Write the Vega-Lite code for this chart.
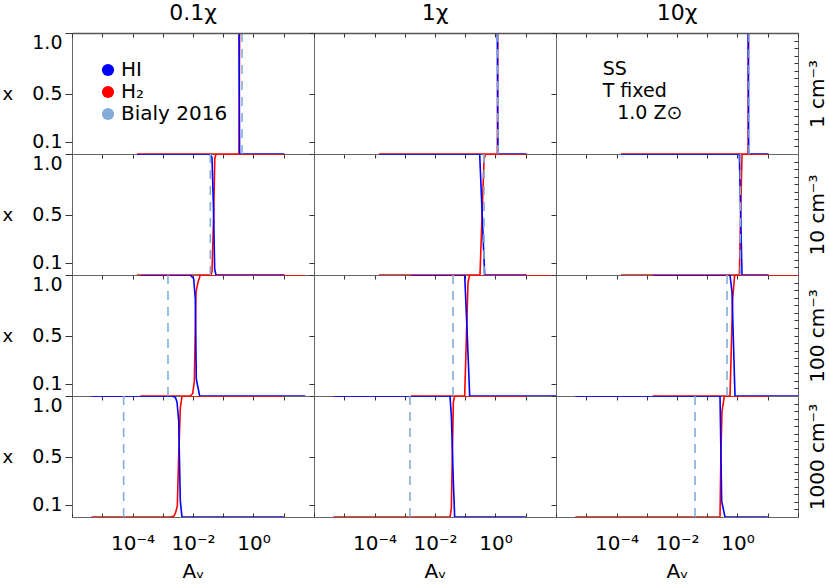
{
"$schema":"https://vega.github.io/schema/vega-lite/v6.json",
"autosize":{"type":"none"},
"padding":{"left":72,"top":33,"right":758,"bottom":551},
"background":"white",
"config":{"font":"DejaVu Sans","view":{"stroke":"#666","strokeWidth":1},
"axis":{"grid":false,"domain":false,"tickColor":"#333","labelColor":"#000","titleColor":"#000","titleFontWeight":"normal","labelFontSize":19,"titleFontSize":20}},
"datasets":{"d":[
{"n":1,"c":0.1,"s":"H₂","a":0.000141,"f":0},{"n":1,"c":0.1,"s":"H₂","a":0.331,"f":0},{"n":1,"c":0.1,"s":"H₂","a":0.347,"f":1},{"n":1,"c":0.1,"s":"H₂","a":10.7,"f":1},
{"n":1,"c":0.1,"s":"HI","a":0.000141,"f":1},{"n":1,"c":0.1,"s":"HI","a":0.331,"f":1},{"n":1,"c":0.1,"s":"HI","a":0.347,"f":0},{"n":1,"c":0.1,"s":"HI","a":10.7,"f":0},
{"n":1,"c":0.1,"s":"Bialy 2016","a":0.417,"f":0},{"n":1,"c":0.1,"s":"Bialy 2016","a":0.417,"f":1},
{"n":1,"c":1,"s":"H₂","a":0.000141,"f":0},{"n":1,"c":1,"s":"H₂","a":1.148,"f":0},{"n":1,"c":1,"s":"H₂","a":1.202,"f":1},{"n":1,"c":1,"s":"H₂","a":10.7,"f":1},
{"n":1,"c":1,"s":"HI","a":0.000141,"f":1},{"n":1,"c":1,"s":"HI","a":1.148,"f":1},{"n":1,"c":1,"s":"HI","a":1.202,"f":0},{"n":1,"c":1,"s":"HI","a":10.7,"f":0},
{"n":1,"c":1,"s":"Bialy 2016","a":1.2,"f":0},{"n":1,"c":1,"s":"Bialy 2016","a":1.2,"f":1},
{"n":1,"c":10,"s":"H₂","a":0.000141,"f":0},{"n":1,"c":10,"s":"H₂","a":2.24,"f":0},{"n":1,"c":10,"s":"H₂","a":2.34,"f":1},{"n":1,"c":10,"s":"H₂","a":10.7,"f":1},
{"n":1,"c":10,"s":"HI","a":0.000141,"f":1},{"n":1,"c":10,"s":"HI","a":2.24,"f":1},{"n":1,"c":10,"s":"HI","a":2.34,"f":0},{"n":1,"c":10,"s":"HI","a":10.7,"f":0},
{"n":1,"c":10,"s":"Bialy 2016","a":2.40,"f":0},{"n":1,"c":10,"s":"Bialy 2016","a":2.40,"f":1},
{"n":10,"c":0.1,"s":"H₂","a":0.000141,"f":0},{"n":10,"c":0.1,"s":"H₂","a":0.0394,"f":0},{"n":10,"c":0.1,"s":"H₂","a":0.0425,"f":0.03},{"n":10,"c":0.1,"s":"H₂","a":0.0482,"f":0.5},{"n":10,"c":0.1,"s":"H₂","a":0.0525,"f":0.96},{"n":10,"c":0.1,"s":"H₂","a":0.0575,"f":1},{"n":10,"c":0.1,"s":"H₂","a":10.7,"f":1},
{"n":10,"c":0.1,"s":"HI","a":0.000141,"f":1},{"n":10,"c":0.1,"s":"HI","a":0.0356,"f":1},{"n":10,"c":0.1,"s":"HI","a":0.0425,"f":0.97},{"n":10,"c":0.1,"s":"HI","a":0.0482,"f":0.5},{"n":10,"c":0.1,"s":"HI","a":0.052,"f":0.05},{"n":10,"c":0.1,"s":"HI","a":0.0575,"f":0},{"n":10,"c":0.1,"s":"HI","a":10.7,"f":0},
{"n":10,"c":0.1,"s":"Bialy 2016","a":0.0374,"f":0},{"n":10,"c":0.1,"s":"Bialy 2016","a":0.0374,"f":1},
{"n":10,"c":1,"s":"H₂","a":0.000141,"f":0},{"n":10,"c":1,"s":"H₂","a":0.307,"f":0},{"n":10,"c":1,"s":"H₂","a":0.417,"f":0.95},{"n":10,"c":1,"s":"H₂","a":0.461,"f":1},{"n":10,"c":1,"s":"H₂","a":10.7,"f":1},
{"n":10,"c":1,"s":"HI","a":0.000141,"f":1},{"n":10,"c":1,"s":"HI","a":0.300,"f":1},{"n":10,"c":1,"s":"HI","a":0.439,"f":0},{"n":10,"c":1,"s":"HI","a":10.7,"f":0},
{"n":10,"c":1,"s":"Bialy 2016","a":0.417,"f":0},{"n":10,"c":1,"s":"Bialy 2016","a":0.417,"f":1},
{"n":10,"c":10,"s":"H₂","a":0.000141,"f":0},{"n":10,"c":10,"s":"H₂","a":1.151,"f":0},{"n":10,"c":10,"s":"H₂","a":1.409,"f":1},{"n":10,"c":10,"s":"H₂","a":10.7,"f":1},
{"n":10,"c":10,"s":"HI","a":0.000141,"f":1},{"n":10,"c":10,"s":"HI","a":1.151,"f":1},{"n":10,"c":10,"s":"HI","a":1.409,"f":0},{"n":10,"c":10,"s":"HI","a":10.7,"f":0},
{"n":10,"c":10,"s":"Bialy 2016","a":1.242,"f":0},{"n":10,"c":10,"s":"Bialy 2016","a":1.242,"f":1},
{"n":100,"c":0.1,"s":"H₂","a":0.000182,"f":0},{"n":100,"c":0.1,"s":"H₂","a":0.00817,"f":0},{"n":100,"c":0.1,"s":"H₂","a":0.00975,"f":0.02},{"n":100,"c":0.1,"s":"H₂","a":0.01107,"f":0.12},{"n":100,"c":0.1,"s":"H₂","a":0.01256,"f":0.86},{"n":100,"c":0.1,"s":"H₂","a":0.01462,"f":0.94},{"n":100,"c":0.1,"s":"H₂","a":0.01746,"f":1},{"n":100,"c":0.1,"s":"H₂","a":51.3,"f":1},
{"n":100,"c":0.1,"s":"HI","a":0.000182,"f":1},{"n":100,"c":0.1,"s":"HI","a":0.00817,"f":1},{"n":100,"c":0.1,"s":"HI","a":0.01052,"f":0.97},{"n":100,"c":0.1,"s":"HI","a":0.01194,"f":0.8},{"n":100,"c":0.1,"s":"HI","a":0.01288,"f":0.14},{"n":100,"c":0.1,"s":"HI","a":0.0166,"f":0},{"n":100,"c":0.1,"s":"HI","a":51.3,"f":0},
{"n":100,"c":0.1,"s":"Bialy 2016","a":0.00149,"f":0},{"n":100,"c":0.1,"s":"Bialy 2016","a":0.00149,"f":1},
{"n":100,"c":1,"s":"H₂","a":0.00158,"f":0},{"n":100,"c":1,"s":"H₂","a":0.0957,"f":0},{"n":100,"c":1,"s":"H₂","a":0.1233,"f":0.94},{"n":100,"c":1,"s":"H₂","a":0.140,"f":1},{"n":100,"c":1,"s":"H₂","a":100,"f":1},
{"n":100,"c":1,"s":"HI","a":0.00158,"f":1},{"n":100,"c":1,"s":"HI","a":0.0957,"f":1},{"n":100,"c":1,"s":"HI","a":0.117,"f":0.5},{"n":100,"c":1,"s":"HI","a":0.140,"f":0},{"n":100,"c":1,"s":"HI","a":100,"f":0},
{"n":100,"c":1,"s":"Bialy 2016","a":0.0394,"f":0},{"n":100,"c":1,"s":"Bialy 2016","a":0.0394,"f":1},
{"n":100,"c":10,"s":"H₂","a":0.00158,"f":0},{"n":100,"c":10,"s":"H₂","a":0.565,"f":0},{"n":100,"c":10,"s":"H₂","a":0.692,"f":0.8},{"n":100,"c":10,"s":"H₂","a":0.805,"f":1},{"n":100,"c":10,"s":"H₂","a":100,"f":1},
{"n":100,"c":10,"s":"HI","a":0.00158,"f":1},{"n":100,"c":10,"s":"HI","a":0.565,"f":1},{"n":100,"c":10,"s":"HI","a":0.658,"f":0.86},{"n":100,"c":10,"s":"HI","a":0.826,"f":0},{"n":100,"c":10,"s":"HI","a":100,"f":0},
{"n":100,"c":10,"s":"Bialy 2016","a":0.450,"f":0},{"n":100,"c":10,"s":"Bialy 2016","a":0.450,"f":1},
{"n":1000,"c":0.1,"s":"H₂","a":0.00000437,"f":0},{"n":1000,"c":0.1,"s":"H₂","a":0.00178,"f":0},{"n":1000,"c":0.1,"s":"H₂","a":0.0023,"f":0.005},{"n":1000,"c":0.1,"s":"H₂","a":0.00261,"f":0.03},{"n":1000,"c":0.1,"s":"H₂","a":0.00303,"f":0.09},{"n":1000,"c":0.1,"s":"H₂","a":0.00336,"f":0.5},{"n":1000,"c":0.1,"s":"H₂","a":0.00381,"f":0.9},{"n":1000,"c":0.1,"s":"H₂","a":0.00433,"f":1},{"n":1000,"c":0.1,"s":"H₂","a":10,"f":1},
{"n":1000,"c":0.1,"s":"HI","a":0.00000437,"f":1},{"n":1000,"c":0.1,"s":"HI","a":0.00202,"f":1},{"n":1000,"c":0.1,"s":"HI","a":0.00261,"f":0.99},{"n":1000,"c":0.1,"s":"HI","a":0.00296,"f":0.95},{"n":1000,"c":0.1,"s":"HI","a":0.00336,"f":0.8},{"n":1000,"c":0.1,"s":"HI","a":0.00381,"f":0.13},{"n":1000,"c":0.1,"s":"HI","a":0.00433,"f":0},{"n":1000,"c":0.1,"s":"HI","a":10,"f":0},
{"n":1000,"c":0.1,"s":"Bialy 2016","a":0.000051,"f":0},{"n":1000,"c":0.1,"s":"Bialy 2016","a":0.000051,"f":1},
{"n":1000,"c":1,"s":"H₂","a":0.00000437,"f":0},{"n":1000,"c":1,"s":"H₂","a":0.0313,"f":0},{"n":1000,"c":1,"s":"H₂","a":0.0347,"f":0.07},{"n":1000,"c":1,"s":"H₂","a":0.0404,"f":0.95},{"n":1000,"c":1,"s":"H₂","a":0.0447,"f":1},{"n":1000,"c":1,"s":"H₂","a":10,"f":1},
{"n":1000,"c":1,"s":"HI","a":0.00000437,"f":1},{"n":1000,"c":1,"s":"HI","a":0.0313,"f":1},{"n":1000,"c":1,"s":"HI","a":0.0347,"f":0.84},{"n":1000,"c":1,"s":"HI","a":0.0404,"f":0.29},{"n":1000,"c":1,"s":"HI","a":0.0447,"f":0},{"n":1000,"c":1,"s":"HI","a":10,"f":0},
{"n":1000,"c":1,"s":"Bialy 2016","a":0.00149,"f":0},{"n":1000,"c":1,"s":"Bialy 2016","a":0.00149,"f":1},
{"n":1000,"c":10,"s":"H₂","a":0.00000437,"f":0},{"n":1000,"c":10,"s":"H₂","a":0.264,"f":0},{"n":1000,"c":10,"s":"H₂","a":0.285,"f":0.57},{"n":1000,"c":10,"s":"H₂","a":0.307,"f":0.87},{"n":1000,"c":10,"s":"H₂","a":0.367,"f":1},{"n":1000,"c":10,"s":"H₂","a":10,"f":1},
{"n":1000,"c":10,"s":"HI","a":0.00000437,"f":1},{"n":1000,"c":10,"s":"HI","a":0.264,"f":1},{"n":1000,"c":10,"s":"HI","a":0.300,"f":0.13},{"n":1000,"c":10,"s":"HI","a":0.386,"f":0},{"n":1000,"c":10,"s":"HI","a":10,"f":0},
{"n":1000,"c":10,"s":"Bialy 2016","a":0.0394,"f":0},{"n":1000,"c":10,"s":"Bialy 2016","a":0.0394,"f":1}
]},
"data":{"name":"d"},
"columns":3,
"spacing":0,
"bounds":"flush",
"concat":[
{"width":242,"height":121,
 "title":{"text":"0.1χ","fontSize":22,"fontWeight":"normal","offset":-9,"baseline":"alphabetic"},
 "layer":[
  {"transform":[{"filter":"datum.n==1 && datum.c==0.1"}],"mark":{"type":"line","strokeWidth":1.6,"clip":true},
   "encoding":{
    "x":{"field":"a","type":"quantitative","scale":{"type":"log","domain":[0.000001,100]},"axis":{"values":[0.000001,0.00001,0.0001,0.001,0.01,0.1,1,10,100],"labels":false,"title":null,"tickSize":4}},
    "y":{"field":"f","type":"quantitative","scale":{"domain":[0,1]},"axis":{"values":[0.1,0.5,1],"format":".1f","tickSize":7,"labelPadding":3,"labelFlush":true,"title":"x","titleAngle":0,"titleX":-70,"titleY":61,"titleAlign":"left","titleBaseline":"middle","titleFontSize":18}},
    "color":{"field":"s","type":"nominal","title":null,"scale":{"domain":["HI","H₂","Bialy 2016"],"range":["#0000ff","#ff0000","#84acd9"]},
      "legend":{"orient":"none","legendX":26,"legendY":27,"symbolType":"circle","symbolSize":150,"labelFontSize":20,"labelOffset":3,"rowPadding":2,"padding":0,"symbolStrokeWidth":0,
        "encode":{"symbols":{"update":{"fill":{"scale":"color","field":"value"},"fillOpacity":{"value":1},"shape":{"value":"circle"}}}}}},
    "strokeDash":{"field":"s","type":"nominal","legend":null,"scale":{"domain":["HI","H₂","Bialy 2016"],"range":[[1,0],[1,0],[9,7]]}}}},
  {"transform":[{"filter":"datum.n==1 && datum.c==0.1"}],"mark":{"type":"point","opacity":0},
   "encoding":{"x":{"datum":1,"type":"quantitative","scale":{"type":"log","domain":[0.000001,100]},"axis":{"orient":"top","values":[0.000001,0.00001,0.0001,0.001,0.01,0.1,1,10,100],"labels":false,"title":null,"tickSize":-4,"domain":true,"domainColor":"#555","domainWidth":1.5,"zindex":1}},
    "y":{"datum":0.5,"type":"quantitative","scale":{"domain":[0,1]},"axis":null}}}
 ],
 "resolve":{"axis":{"x":"independent","y":"independent"}}},
{"width":242,"height":121,
 "title":{"text":"1χ","fontSize":22,"fontWeight":"normal","offset":-9,"baseline":"alphabetic"},
 "layer":[
  {"transform":[{"filter":"datum.n==1 && datum.c==1"}],"mark":{"type":"line","strokeWidth":1.6,"clip":true},
   "encoding":{
    "x":{"field":"a","type":"quantitative","scale":{"type":"log","domain":[0.000001,100]},"axis":{"values":[0.000001,0.00001,0.0001,0.001,0.01,0.1,1,10,100],"labels":false,"title":null,"tickSize":4}},
    "y":{"field":"f","type":"quantitative","scale":{"domain":[0,1]},"axis":{"values":[0.1,0.5,1],"labels":false,"tickSize":5,"title":null}},
    "color":{"field":"s","type":"nominal","title":null,"scale":{"domain":["HI","H₂","Bialy 2016"],"range":["#0000ff","#ff0000","#84acd9"]}},
    "strokeDash":{"field":"s","type":"nominal","legend":null,"scale":{"domain":["HI","H₂","Bialy 2016"],"range":[[1,0],[1,0],[9,7]]}}}},
  {"transform":[{"filter":"datum.n==1 && datum.c==1"}],"mark":{"type":"point","opacity":0},
   "encoding":{"x":{"datum":1,"type":"quantitative","scale":{"type":"log","domain":[0.000001,100]},"axis":{"orient":"top","values":[0.000001,0.00001,0.0001,0.001,0.01,0.1,1,10,100],"labels":false,"title":null,"tickSize":-4,"domain":true,"domainColor":"#555","domainWidth":1.5,"zindex":1}},
    "y":{"datum":0.5,"type":"quantitative","scale":{"domain":[0,1]},"axis":null}}}
 ],
 "resolve":{"axis":{"x":"independent","y":"independent"}}},
{"width":242,"height":121,
 "title":{"text":"10χ","fontSize":22,"fontWeight":"normal","offset":-9,"baseline":"alphabetic"},
 "layer":[
  {"transform":[{"filter":"datum.n==1 && datum.c==10"}],"mark":{"type":"line","strokeWidth":1.6,"clip":true},
   "encoding":{
    "x":{"field":"a","type":"quantitative","scale":{"type":"log","domain":[0.000001,100]},"axis":{"values":[0.000001,0.00001,0.0001,0.001,0.01,0.1,1,10,100],"labels":false,"title":null,"tickSize":4}},
    "y":{"field":"f","type":"quantitative","scale":{"domain":[0,1]},"axis":{"values":[0.1,0.5,1],"labels":false,"tickSize":5,"title":null}},
    "color":{"field":"s","type":"nominal","title":null,"scale":{"domain":["HI","H₂","Bialy 2016"],"range":["#0000ff","#ff0000","#84acd9"]}},
    "strokeDash":{"field":"s","type":"nominal","legend":null,"scale":{"domain":["HI","H₂","Bialy 2016"],"range":[[1,0],[1,0],[9,7]]}}}},
  {"transform":[{"filter":"datum.n==1 && datum.c==10"}],"mark":{"type":"point","opacity":0},
   "encoding":{"x":{"datum":1,"type":"quantitative","scale":{"type":"log","domain":[0.000001,100]},"axis":{"orient":"top","values":[0.000001,0.00001,0.0001,0.001,0.01,0.1,1,10,100],"labels":false,"title":null,"tickSize":-4,"domain":true,"domainColor":"#555","domainWidth":1.5,"zindex":1}},
    "y":{"datum":0.5,"type":"quantitative","scale":{"domain":[0,1]},"axis":{"orient":"right","values":[0.0625,0.125,0.1875,0.25,0.3125,0.375,0.4375,0.5,0.5625,0.625,0.6875,0.75,0.8125,0.875,0.9375],"labels":false,"tickSize":-4,"title":"1 cm⁻³","titleAngle":270,"titleX":25,"titleY":60.5,"titleAlign":"center","titleBaseline":"alphabetic","titleFontSize":20}}}},
  {"data":{"values":[{"t":"SS\nT fixed"}]},"mark":{"type":"text","align":"left","baseline":"alphabetic","fontSize":19,"lineHeight":22,"lineBreak":"\n"},
   "encoding":{"x":{"datum":0.000035,"type":"quantitative","scale":{"type":"log","domain":[0.000001,100]},"axis":null},"y":{"datum":0.654,"type":"quantitative","scale":{"domain":[0,1]},"axis":null},"text":{"field":"t"}}},
  {"data":{"values":[{"t":"1.0 Z⊙"}]},"mark":{"type":"text","align":"left","baseline":"alphabetic","fontSize":19},
   "encoding":{"x":{"datum":0.000105,"type":"quantitative","scale":{"type":"log","domain":[0.000001,100]},"axis":null},"y":{"datum":0.29,"type":"quantitative","scale":{"domain":[0,1]},"axis":null},"text":{"field":"t"}}}
 ],
 "resolve":{"axis":{"x":"independent","y":"independent"}}},
{"width":242,"height":121,
 "layer":[
  {"transform":[{"filter":"datum.n==10 && datum.c==0.1"}],"mark":{"type":"line","strokeWidth":1.6,"clip":true},
   "encoding":{
    "x":{"field":"a","type":"quantitative","scale":{"type":"log","domain":[0.000001,100]},"axis":{"values":[0.000001,0.00001,0.0001,0.001,0.01,0.1,1,10,100],"labels":false,"title":null,"tickSize":4}},
    "y":{"field":"f","type":"quantitative","scale":{"domain":[0,1]},"axis":{"values":[0.1,0.5,1],"format":".1f","tickSize":7,"labelPadding":3,"labelFlush":true,"title":"x","titleAngle":0,"titleX":-70,"titleY":61,"titleAlign":"left","titleBaseline":"middle","titleFontSize":18}},
    "color":{"field":"s","type":"nominal","title":null,"scale":{"domain":["HI","H₂","Bialy 2016"],"range":["#0000ff","#ff0000","#84acd9"]}},
    "strokeDash":{"field":"s","type":"nominal","legend":null,"scale":{"domain":["HI","H₂","Bialy 2016"],"range":[[1,0],[1,0],[9,7]]}}}}
 ]},
{"width":242,"height":121,
 "layer":[
  {"transform":[{"filter":"datum.n==10 && datum.c==1"}],"mark":{"type":"line","strokeWidth":1.6,"clip":true},
   "encoding":{
    "x":{"field":"a","type":"quantitative","scale":{"type":"log","domain":[0.000001,100]},"axis":{"values":[0.000001,0.00001,0.0001,0.001,0.01,0.1,1,10,100],"labels":false,"title":null,"tickSize":4}},
    "y":{"field":"f","type":"quantitative","scale":{"domain":[0,1]},"axis":{"values":[0.1,0.5,1],"labels":false,"tickSize":5,"title":null}},
    "color":{"field":"s","type":"nominal","title":null,"scale":{"domain":["HI","H₂","Bialy 2016"],"range":["#0000ff","#ff0000","#84acd9"]}},
    "strokeDash":{"field":"s","type":"nominal","legend":null,"scale":{"domain":["HI","H₂","Bialy 2016"],"range":[[1,0],[1,0],[9,7]]}}}}
 ]},
{"width":242,"height":121,
 "layer":[
  {"transform":[{"filter":"datum.n==10 && datum.c==10"}],"mark":{"type":"line","strokeWidth":1.6,"clip":true},
   "encoding":{
    "x":{"field":"a","type":"quantitative","scale":{"type":"log","domain":[0.000001,100]},"axis":{"values":[0.000001,0.00001,0.0001,0.001,0.01,0.1,1,10,100],"labels":false,"title":null,"tickSize":4}},
    "y":{"field":"f","type":"quantitative","scale":{"domain":[0,1]},"axis":{"values":[0.1,0.5,1],"labels":false,"tickSize":5,"title":null}},
    "color":{"field":"s","type":"nominal","title":null,"scale":{"domain":["HI","H₂","Bialy 2016"],"range":["#0000ff","#ff0000","#84acd9"]}},
    "strokeDash":{"field":"s","type":"nominal","legend":null,"scale":{"domain":["HI","H₂","Bialy 2016"],"range":[[1,0],[1,0],[9,7]]}}}},
  {"transform":[{"filter":"datum.n==10 && datum.c==10"}],"mark":{"type":"point","opacity":0},
   "encoding":{"x":{"datum":1,"type":"quantitative","scale":{"type":"log","domain":[0.000001,100]},"axis":null},
    "y":{"datum":0.5,"type":"quantitative","scale":{"domain":[0,1]},"axis":{"orient":"right","values":[0.0625,0.125,0.1875,0.25,0.3125,0.375,0.4375,0.5,0.5625,0.625,0.6875,0.75,0.8125,0.875,0.9375],"labels":false,"tickSize":-4,"title":"10 cm⁻³","titleAngle":270,"titleX":25,"titleY":60.5,"titleAlign":"center","titleBaseline":"alphabetic","titleFontSize":20}}}}
 ],
 "resolve":{"axis":{"x":"independent","y":"independent"}}},
{"width":242,"height":121,
 "layer":[
  {"transform":[{"filter":"datum.n==100 && datum.c==0.1"}],"mark":{"type":"line","strokeWidth":1.6,"clip":true},
   "encoding":{
    "x":{"field":"a","type":"quantitative","scale":{"type":"log","domain":[0.000001,100]},"axis":{"values":[0.000001,0.00001,0.0001,0.001,0.01,0.1,1,10,100],"labels":false,"title":null,"tickSize":4}},
    "y":{"field":"f","type":"quantitative","scale":{"domain":[0,1]},"axis":{"values":[0.1,0.5,1],"format":".1f","tickSize":7,"labelPadding":3,"labelFlush":true,"title":"x","titleAngle":0,"titleX":-70,"titleY":61,"titleAlign":"left","titleBaseline":"middle","titleFontSize":18}},
    "color":{"field":"s","type":"nominal","title":null,"scale":{"domain":["HI","H₂","Bialy 2016"],"range":["#0000ff","#ff0000","#84acd9"]}},
    "strokeDash":{"field":"s","type":"nominal","legend":null,"scale":{"domain":["HI","H₂","Bialy 2016"],"range":[[1,0],[1,0],[9,7]]}}}}
 ]},
{"width":242,"height":121,
 "layer":[
  {"transform":[{"filter":"datum.n==100 && datum.c==1"}],"mark":{"type":"line","strokeWidth":1.6,"clip":true},
   "encoding":{
    "x":{"field":"a","type":"quantitative","scale":{"type":"log","domain":[0.000001,100]},"axis":{"values":[0.000001,0.00001,0.0001,0.001,0.01,0.1,1,10,100],"labels":false,"title":null,"tickSize":4}},
    "y":{"field":"f","type":"quantitative","scale":{"domain":[0,1]},"axis":{"values":[0.1,0.5,1],"labels":false,"tickSize":5,"title":null}},
    "color":{"field":"s","type":"nominal","title":null,"scale":{"domain":["HI","H₂","Bialy 2016"],"range":["#0000ff","#ff0000","#84acd9"]}},
    "strokeDash":{"field":"s","type":"nominal","legend":null,"scale":{"domain":["HI","H₂","Bialy 2016"],"range":[[1,0],[1,0],[9,7]]}}}}
 ]},
{"width":242,"height":121,
 "layer":[
  {"transform":[{"filter":"datum.n==100 && datum.c==10"}],"mark":{"type":"line","strokeWidth":1.6,"clip":true},
   "encoding":{
    "x":{"field":"a","type":"quantitative","scale":{"type":"log","domain":[0.000001,100]},"axis":{"values":[0.000001,0.00001,0.0001,0.001,0.01,0.1,1,10,100],"labels":false,"title":null,"tickSize":4}},
    "y":{"field":"f","type":"quantitative","scale":{"domain":[0,1]},"axis":{"values":[0.1,0.5,1],"labels":false,"tickSize":5,"title":null}},
    "color":{"field":"s","type":"nominal","title":null,"scale":{"domain":["HI","H₂","Bialy 2016"],"range":["#0000ff","#ff0000","#84acd9"]}},
    "strokeDash":{"field":"s","type":"nominal","legend":null,"scale":{"domain":["HI","H₂","Bialy 2016"],"range":[[1,0],[1,0],[9,7]]}}}},
  {"transform":[{"filter":"datum.n==100 && datum.c==10"}],"mark":{"type":"point","opacity":0},
   "encoding":{"x":{"datum":1,"type":"quantitative","scale":{"type":"log","domain":[0.000001,100]},"axis":null},
    "y":{"datum":0.5,"type":"quantitative","scale":{"domain":[0,1]},"axis":{"orient":"right","values":[0.0625,0.125,0.1875,0.25,0.3125,0.375,0.4375,0.5,0.5625,0.625,0.6875,0.75,0.8125,0.875,0.9375],"labels":false,"tickSize":-4,"title":"100 cm⁻³","titleAngle":270,"titleX":25,"titleY":60.5,"titleAlign":"center","titleBaseline":"alphabetic","titleFontSize":20}}}}
 ],
 "resolve":{"axis":{"x":"independent","y":"independent"}}},
{"width":242,"height":121,
 "layer":[
  {"transform":[{"filter":"datum.n==1000 && datum.c==0.1"}],"mark":{"type":"line","strokeWidth":1.6,"clip":true},
   "encoding":{
    "x":{"field":"a","type":"quantitative","scale":{"type":"log","domain":[0.000001,100]},"axis":{"values":[0.000001,0.00001,0.0001,0.001,0.01,0.1,1,10,100],"labelExpr":"datum.value == 0.0001 ? '10⁻⁴' : datum.value == 0.01 ? '10⁻²' : datum.value == 1 ? '10⁰' : ''","tickSize":-4,"labelPadding":20,"labelFontSize":20,"labelFlush":false,"labelOverlap":false,"title":"Aᵥ","titlePadding":8}},
    "y":{"field":"f","type":"quantitative","scale":{"domain":[0,1]},"axis":{"values":[0.1,0.5,1],"format":".1f","tickSize":7,"labelPadding":3,"labelFlush":true,"title":"x","titleAngle":0,"titleX":-70,"titleY":61,"titleAlign":"left","titleBaseline":"middle","titleFontSize":18}},
    "color":{"field":"s","type":"nominal","title":null,"scale":{"domain":["HI","H₂","Bialy 2016"],"range":["#0000ff","#ff0000","#84acd9"]}},
    "strokeDash":{"field":"s","type":"nominal","legend":null,"scale":{"domain":["HI","H₂","Bialy 2016"],"range":[[1,0],[1,0],[9,7]]}}}}
 ]},
{"width":242,"height":121,
 "layer":[
  {"transform":[{"filter":"datum.n==1000 && datum.c==1"}],"mark":{"type":"line","strokeWidth":1.6,"clip":true},
   "encoding":{
    "x":{"field":"a","type":"quantitative","scale":{"type":"log","domain":[0.000001,100]},"axis":{"values":[0.000001,0.00001,0.0001,0.001,0.01,0.1,1,10,100],"labelExpr":"datum.value == 0.0001 ? '10⁻⁴' : datum.value == 0.01 ? '10⁻²' : datum.value == 1 ? '10⁰' : ''","tickSize":-4,"labelPadding":20,"labelFontSize":20,"labelFlush":false,"labelOverlap":false,"title":"Aᵥ","titlePadding":8}},
    "y":{"field":"f","type":"quantitative","scale":{"domain":[0,1]},"axis":{"values":[0.1,0.5,1],"labels":false,"tickSize":5,"title":null}},
    "color":{"field":"s","type":"nominal","title":null,"scale":{"domain":["HI","H₂","Bialy 2016"],"range":["#0000ff","#ff0000","#84acd9"]}},
    "strokeDash":{"field":"s","type":"nominal","legend":null,"scale":{"domain":["HI","H₂","Bialy 2016"],"range":[[1,0],[1,0],[9,7]]}}}}
 ]},
{"width":242,"height":121,
 "layer":[
  {"transform":[{"filter":"datum.n==1000 && datum.c==10"}],"mark":{"type":"line","strokeWidth":1.6,"clip":true},
   "encoding":{
    "x":{"field":"a","type":"quantitative","scale":{"type":"log","domain":[0.000001,100]},"axis":{"values":[0.000001,0.00001,0.0001,0.001,0.01,0.1,1,10,100],"labelExpr":"datum.value == 0.0001 ? '10⁻⁴' : datum.value == 0.01 ? '10⁻²' : datum.value == 1 ? '10⁰' : ''","tickSize":-4,"labelPadding":20,"labelFontSize":20,"labelFlush":false,"labelOverlap":false,"title":"Aᵥ","titlePadding":8}},
    "y":{"field":"f","type":"quantitative","scale":{"domain":[0,1]},"axis":{"values":[0.1,0.5,1],"labels":false,"tickSize":5,"title":null}},
    "color":{"field":"s","type":"nominal","title":null,"scale":{"domain":["HI","H₂","Bialy 2016"],"range":["#0000ff","#ff0000","#84acd9"]}},
    "strokeDash":{"field":"s","type":"nominal","legend":null,"scale":{"domain":["HI","H₂","Bialy 2016"],"range":[[1,0],[1,0],[9,7]]}}}},
  {"transform":[{"filter":"datum.n==1000 && datum.c==10"}],"mark":{"type":"point","opacity":0},
   "encoding":{"x":{"datum":1,"type":"quantitative","scale":{"type":"log","domain":[0.000001,100]},"axis":null},
    "y":{"datum":0.5,"type":"quantitative","scale":{"domain":[0,1]},"axis":{"orient":"right","values":[0.0625,0.125,0.1875,0.25,0.3125,0.375,0.4375,0.5,0.5625,0.625,0.6875,0.75,0.8125,0.875,0.9375],"labels":false,"tickSize":-4,"title":"1000 cm⁻³","titleAngle":270,"titleX":25,"titleY":60.5,"titleAlign":"center","titleBaseline":"alphabetic","titleFontSize":20}}}}
 ],
 "resolve":{"axis":{"x":"independent","y":"independent"}}}
]
}
